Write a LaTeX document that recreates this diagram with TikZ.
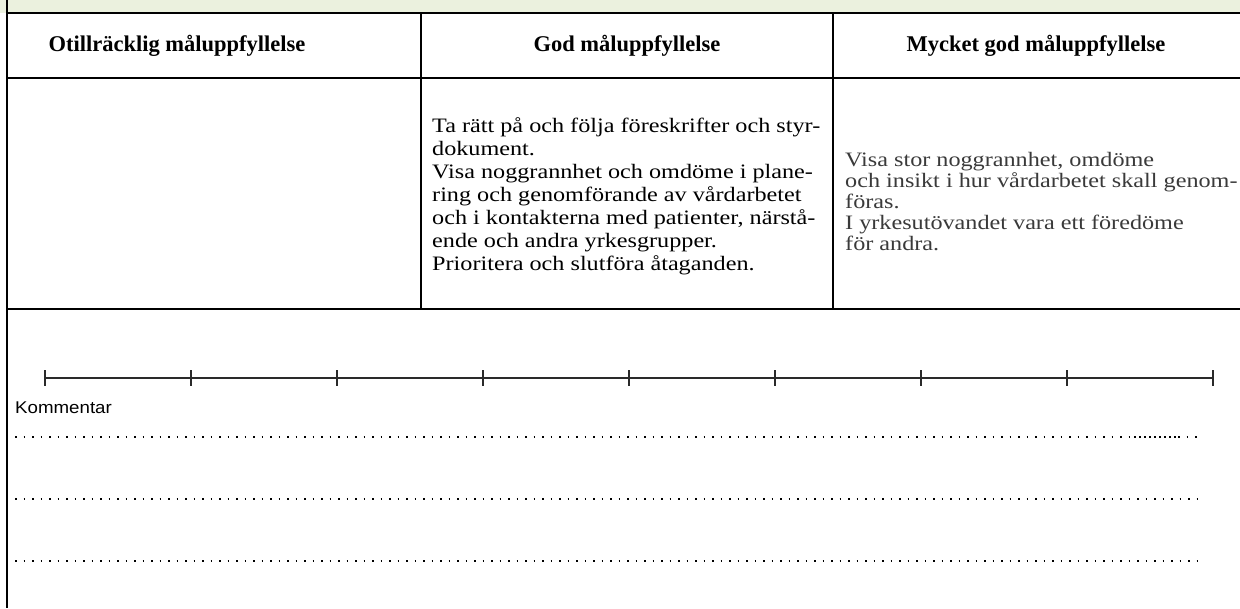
\documentclass[tikz,border=0pt]{standalone}
\usepackage{fontspec}
\setmainfont{Liberation Serif}[FakeStretch=1.18]
\newfontfamily\headfont{Liberation Serif}
\newfontfamily\kommfont{Liberation Sans}[FakeStretch=1.1]
\usetikzlibrary{positioning}
\definecolor{bandgreen}{HTML}{EBF1DE}
\definecolor{greytext}{HTML}{3A3A3A}
\definecolor{scalegrey}{HTML}{2A2A2A}
\tikzset{
  rule/.style={line width=1.6pt},
  headcell/.style={font=\headfont\bfseries\fontsize{22.5}{26}\selectfont, inner sep=0pt},
  bodycell/.style={font=\fontsize{20.5}{23}\selectfont, align=left, anchor=north west, inner sep=0pt},
  dotline/.style={line width=1.6pt, dash pattern=on 1.6pt off 6.9pt},
}

\begin{document}
\begin{tikzpicture}[x=1pt, y=-1pt]
\useasboundingbox (0,0) rectangle (1240,608);

% green band and table frame
\fill[bandgreen] (0,0) rectangle (1240,13);
\draw[rule] (7,13) -- (1240,13);
\draw[rule] (7,78) -- (1240,78);
\draw[rule] (7,309) -- (1240,309);
\draw[rule] (7,0) -- (7,608);
\draw[line width=1.3pt] (421,13) -- (421,309);
\draw[line width=1.3pt] (833,13) -- (833,309);

\node[headcell] (low) at (177,46) {Otillräcklig måluppfyllelse};
\node[headcell] (good) at (627,46) {God måluppfyllelse};
\node[headcell] (verygood) at (1036,46) {Mycket god måluppfyllelse};

\node[bodycell] (goodtext) at (432,117) {Ta rätt på och följa föreskrifter och styr-\\
  dokument.\\
  Visa noggrannhet och omdöme i plane-\\
  ring och genomförande av vårdarbetet\\
  och i kontakterna med patienter, närstå-\\
  ende och andra yrkesgrupper.\\
  Prioritera och slutföra åtaganden.};
\node[bodycell, text=greytext, font=\fontsize{20.5}{21}\selectfont] (verygoodtext) at (845,152)
  {Visa stor noggrannhet, omdöme\\
  och insikt i hur vårdarbetet skall genom-\\
  föras.\\
  I yrkesutövandet vara ett föredöme\\
  för andra.};

% grading scale
\foreach \i in {0,...,8}
  \coordinate (t\i) at (45+146*\i,378);
\draw[scalegrey, line width=2pt] (t0) -- (t8);
\foreach \i in {0,...,8}
  \draw[scalegrey, line width=2pt] (t\i) ++(0,-8) -- ++(0,16);

\node[font=\kommfont\fontsize{17}{20}\selectfont, anchor=west, inner sep=0pt] (komm) at (15,408) {Kommentar};

% lines for comments
\foreach \y in {437,499,561} {
  \coordinate (a\y) at (15,\y);
  \coordinate (b\y) at (1197,\y);
}
\coordinate (c1) at (1134,437);
\coordinate (c2) at (1178,437);
\draw[dotline] (a437) -- (c1);
\draw[line width=1.6pt, dash pattern=on 1.6pt off 3.4pt] (c1) -- (c2);
\draw[dotline] (c2) -- (b437);
\draw[dotline] (a499) -- (b499);
\draw[dotline] (a561) -- (b561);
\end{tikzpicture}
\end{document}
